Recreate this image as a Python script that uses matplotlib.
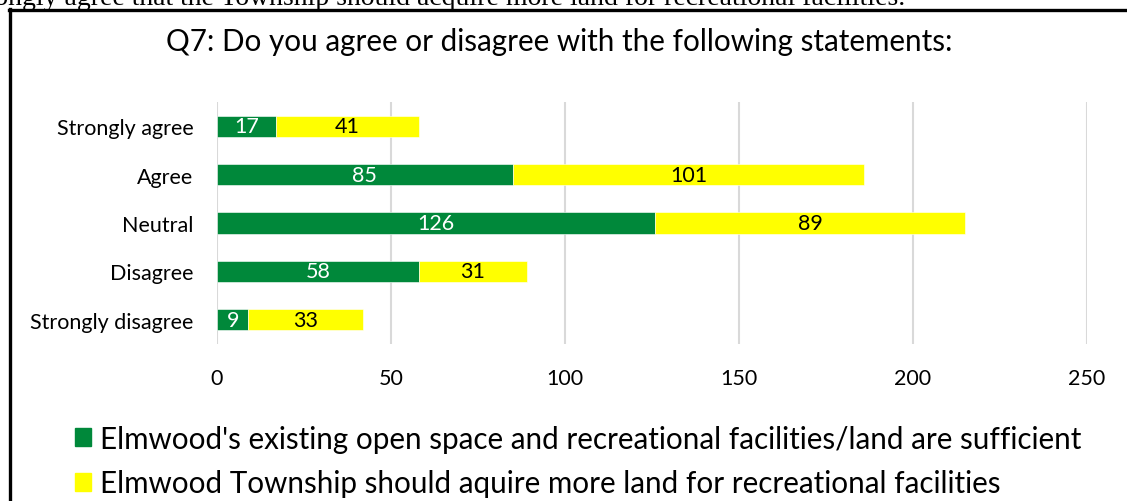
import matplotlib.pyplot as plt
from matplotlib.patches import Patch
from matplotlib.lines import Line2D

# respostas da pergunta Q7
categorias = ['Strongly agree', 'Agree', 'Neutral', 'Disagree', 'Strongly disagree']
suficiente = [17, 85, 126, 58, 9]
adquirir = [41, 101, 89, 31, 33]
ticks_x = [0, 50, 100, 150, 200, 250]

serie1 = "Elmwood's existing open space and recreational facilities/land are sufficient"
serie2 = "Elmwood Township should aquire more land for recreational facilities"
titulo = 'Q7: Do you agree or disagree with the following statements:'
texto_doc = 'Strongly agree that the Township should acquire more land for recreational facilities.'

verde = '#00883A'
amarelo = '#FFFF00'

plt.rcParams['font.family'] = ['Lato', 'DejaVu Sans']

W, H = 1127, 502
fig = plt.figure(figsize=(W / 100, H / 100), dpi=100, facecolor='white')

ax = fig.add_axes([217 / W, 1 - 345 / H, (1087 - 217) / W, (345 - 103) / H])
y = list(range(len(categorias)))

ax.barh(y, suficiente, height=0.44, color=verde, edgecolor='white', linewidth=0.4, zorder=3)
ax.barh(y, adquirir, left=suficiente, height=0.44, color=amarelo, edgecolor='white', linewidth=0.4, zorder=3)

# valores dentro de cada segmento
for i in y:
    ax.text(suficiente[i] / 2, i, str(suficiente[i]), color='white', fontsize=15.5,
            ha='center', va='center', zorder=4)
    ax.text(suficiente[i] + adquirir[i] / 2, i, str(adquirir[i]), color='black', fontsize=15.5,
            ha='center', va='center', zorder=4)

ax.set_xlim(0, 250)
ax.set_ylim(len(categorias) - 0.5, -0.5)
ax.set_xticks(ticks_x)
ax.set_yticks(y)
ax.set_yticklabels(categorias)
ax.tick_params(axis='both', length=0, labelsize=15.5)
ax.tick_params(axis='x', pad=17)
ax.tick_params(axis='y', pad=17)
ax.grid(axis='x', color='#D9D9D9', linewidth=1.5, zorder=0)
for s in ax.spines.values():
    s.set_visible(False)

fig.text(559 / W, 1 - 42 / H, titulo, fontsize=21.3, ha='center', va='center')

fig.legend(handles=[Patch(color=verde, label=serie1), Patch(color=amarelo, label=serie2)],
           loc='upper left', bbox_to_anchor=(63 / W, 1 - 414 / H), frameon=False,
           fontsize=21.3, handlelength=0.55, handleheight=0.55, handletextpad=0.3,
           labelspacing=0.55, borderaxespad=0)

# linha de texto do documento cortada no topo
fig.text(905 / W, 1 - 5 / H, texto_doc, fontsize=20, family='Liberation Serif',
         ha='right', va='baseline')

# moldura preta do gráfico
fig.add_artist(Line2D([9.5 / W, 9.5 / W], [0, 1 - 10 / H], color='black', linewidth=2.4))
fig.add_artist(Line2D([8.5 / W, 1], [1 - 11 / H, 1 - 11 / H], color='black', linewidth=2.4))

fig.savefig('out.png', dpi=100, facecolor='white')
